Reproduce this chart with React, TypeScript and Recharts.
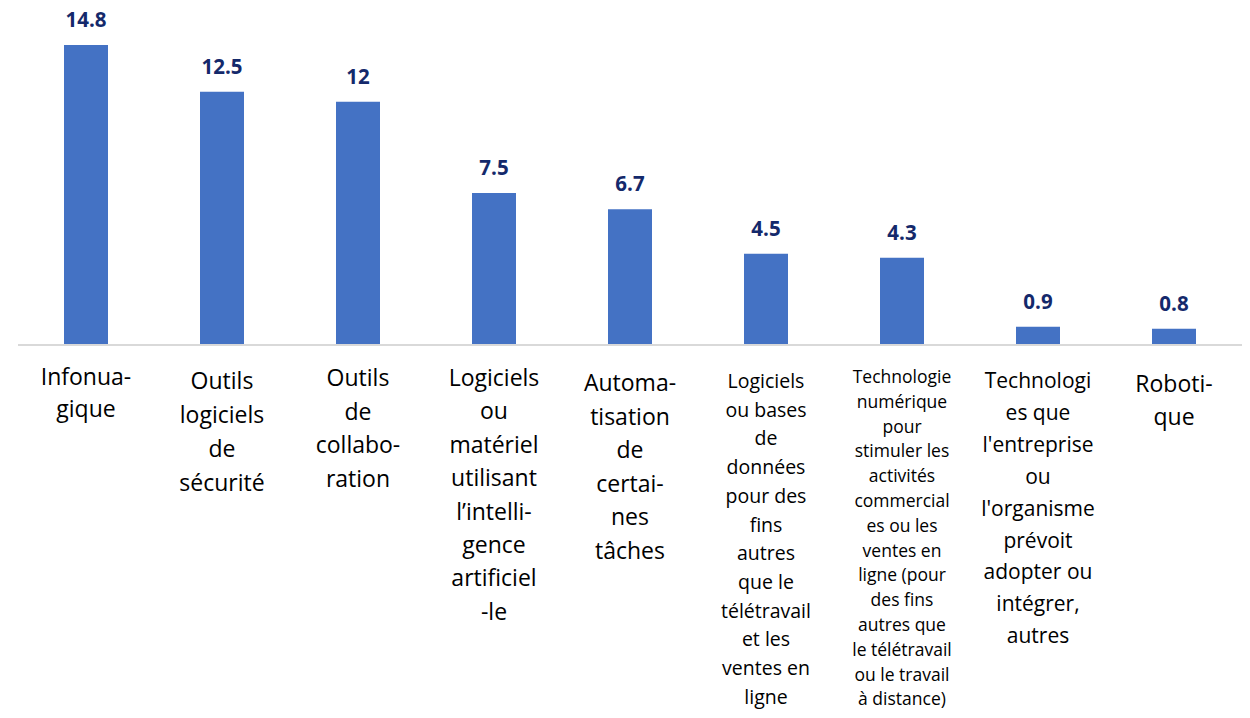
import { BarChart, Bar, XAxis, YAxis, LabelList } from "recharts";

// category labels, already broken into lines as in the source
const categoryLines: string[][] = [
  ["Infonua-", "gique"],
  ["Outils", "logiciels", "de", "sécurité"],
  ["Outils", "de", "collabo-", "ration"],
  ["Logiciels", "ou", "matériel", "utilisant", "l’intelli-", "gence", "artificiel", "-le"],
  ["Automa-", "tisation", "de", "certai-", "nes", "tâches"],
  ["Logiciels", "ou bases", "de", "données", "pour des", "fins", "autres", "que le", "télétravail", "et les", "ventes en", "ligne"],
  ["Technologie", "numérique", "pour", "stimuler les", "activités", "commercial", "es ou les", "ventes en", "ligne (pour", "des fins", "autres que", "le télétravail", "ou le travail", "à distance)"],
  ["Technologi", "es que", "l'entreprise", "ou", "l'organisme", "prévoit", "adopter ou", "intégrer,", "autres"],
  ["Roboti-", "que"],
];

const values = [14.8, 12.5, 12, 7.5, 6.7, 4.5, 4.3, 0.9, 0.8];

const data = values.map((value, i) => ({ name: String(i), value }));

// per-label text style: font size, line height, first baseline below the axis
const labelStyle = [
  { size: 23, lh: 32, first: 40 },
  { size: 23, lh: 34, first: 44 },
  { size: 23, lh: 33.5, first: 41 },
  { size: 23, lh: 33.4, first: 41 },
  { size: 23, lh: 33.6, first: 46 },
  { size: 19.5, lh: 28.7, first: 43 },
  { size: 17.5, lh: 24.8, first: 38 },
  { size: 21, lh: 31.9, first: 43 },
  { size: 23, lh: 33, first: 47 },
];

const FONT = "'Open Sans', 'Noto Sans', sans-serif";

function CategoryTick(props: any) {
  const { x, y, payload } = props;
  const idx = Number(payload.value);
  const lines = categoryLines[idx] || [];
  const st = labelStyle[idx];
  return (
    <text
      x={x}
      y={y + st.first}
      textAnchor="middle"
      fill="#000"
      fontSize={st.size}
      fontFamily={FONT}
    >
      {lines.map((line, i) => (
        <tspan key={i} x={x} dy={i === 0 ? 0 : st.lh}>
          {line}
        </tspan>
      ))}
    </text>
  );
}

export default function App() {
  // cancel the default body margin so the chart fills the page
  return (
    <div style={{ width: 1250, height: 718, margin: "-8px 0 0 -8px" }}>
      <BarChart
        width={1250}
        height={718}
        data={data}
        margin={{ top: 20.7, right: 8, left: 18, bottom: 0 }}
      >
        <XAxis
          dataKey="name"
          height={373}
          interval={0}
          tickLine={false}
          tickSize={0}
          tickMargin={0}
          axisLine={{ stroke: "#D9D9D9", strokeWidth: 2 }}
          tick={<CategoryTick />}
        />
        <YAxis hide domain={[0, 16]} />
        <Bar dataKey="value" fill="#4472C4" barSize={44} isAnimationActive={false}>
          <LabelList
            dataKey="value"
            position="top"
            offset={18}
            fill="#14296B"
            fontSize={20.5}
            fontWeight={700}
            fontFamily={FONT}
          />
        </Bar>
      </BarChart>
    </div>
  );
}
